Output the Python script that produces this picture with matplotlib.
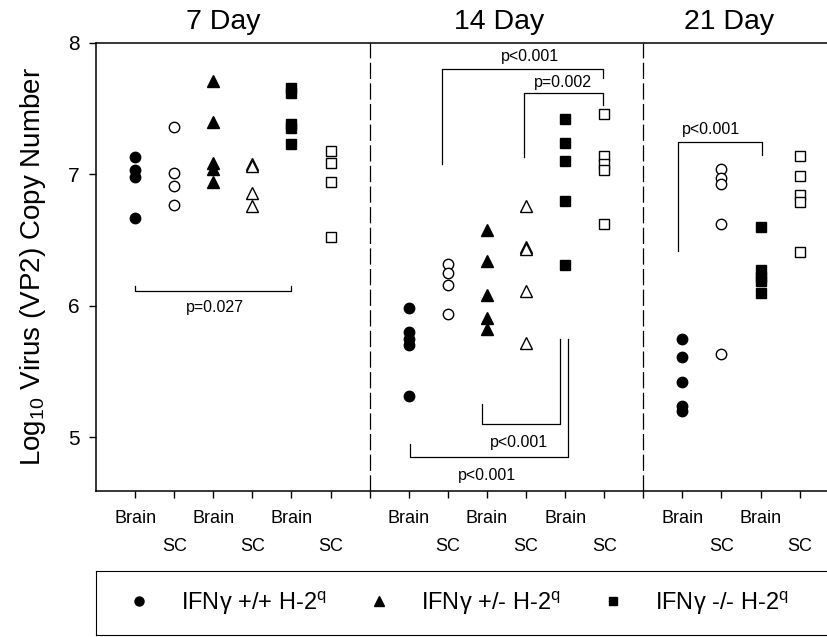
import matplotlib.pyplot as plt
from matplotlib.lines import Line2D

plt.rcParams['font.family'] = ['Liberation Sans', 'DejaVu Sans']
plt.rcParams['mathtext.default'] = 'regular'

# log10 VP2 copy number
d7_wt_brain = [7.13, 7.03, 6.98, 6.67]
d7_wt_sc = [7.36, 7.01, 6.91, 6.77]
d7_het_brain = [7.71, 7.40, 7.09, 7.04, 6.94]
d7_het_sc = [7.08, 7.06, 6.86, 6.76]
d7_ko_brain = [7.66, 7.62, 7.38, 7.35, 7.23]
d7_ko_sc = [7.18, 7.09, 6.94, 6.52]

d14_wt_brain = [5.98, 5.80, 5.75, 5.70, 5.31]
d14_wt_sc = [6.32, 6.25, 6.16, 5.94]
d14_het_brain = [6.58, 6.34, 6.08, 5.91, 5.82]
d14_het_sc = [6.76, 6.45, 6.43, 6.11, 5.72]
d14_ko_brain = [7.42, 7.24, 7.10, 6.80, 6.31]
d14_ko_sc = [7.46, 7.14, 7.08, 7.03, 6.62]

d21_wt_brain = [5.75, 5.61, 5.42, 5.24, 5.20]
d21_wt_sc = [7.04, 6.97, 6.93, 6.62, 5.63]
d21_ko_brain = [6.60, 6.27, 6.22, 6.19, 6.10]
d21_ko_sc = [7.14, 6.99, 6.84, 6.79, 6.41]

days = ['7 Day', '14 Day', '21 Day']
day_centers = [3.25, 10.3, 16.2]
dividers = [7, 14]

# (genotype marker, filled?, values) in x order for each day
groups = [
    ('o', True, d7_wt_brain), ('o', False, d7_wt_sc),
    ('^', True, d7_het_brain), ('^', False, d7_het_sc),
    ('s', True, d7_ko_brain), ('s', False, d7_ko_sc),
    None,
    ('o', True, d14_wt_brain), ('o', False, d14_wt_sc),
    ('^', True, d14_het_brain), ('^', False, d14_het_sc),
    ('s', True, d14_ko_brain), ('s', False, d14_ko_sc),
    None,
    ('o', True, d21_wt_brain), ('o', False, d21_wt_sc),
    ('s', True, d21_ko_brain), ('s', False, d21_ko_sc),
]

# significance brackets: x0, x1, y at left end, y of bar, y at right end, label, label x, label y
brackets = [
    (1, 5, 6.15, 6.11, 6.15, 'p=0.027', 3.04, 5.99),
    (8.85, 12.97, 7.08, 7.80, 7.73, 'p<0.001', 11.1, 7.90),
    (10.95, 12.97, 7.13, 7.62, 7.53, 'p=0.002', 11.95, 7.70),
    (9.87, 11.88, 5.25, 5.10, 5.75, 'p<0.001', 10.82, 4.96),
    (8.03, 12.08, 4.95, 4.845, 5.75, 'p<0.001', 9.99, 4.71),
    (14.89, 17.03, 6.42, 7.25, 7.15, 'p<0.001', 15.74, 7.34),
]

legend_labels = ['IFN$\\gamma$ +/+ H-2$^{q}$', 'IFN$\\gamma$ +/- H-2$^{q}$', 'IFN$\\gamma$ -/- H-2$^{q}$']

fig = plt.figure(figsize=(8.27, 6.37), dpi=100)
ax = fig.add_axes([96 / 827, 1 - 491 / 637, 731 / 827, 448 / 637])

sizes = {'o': 7.5, '^': 8, 's': 6.5}
brain_pos, sc_pos = [], []
for i, g in enumerate(groups):
    if g is None:
        continue
    x = i + 1
    m, filled, vals = g
    ax.plot([x] * len(vals), vals, linestyle='none', marker=m, ms=sizes[m],
            mfc='k' if filled else 'white', mec='k', mew=1.0)
    (brain_pos if filled else sc_pos).append(x)

for x0, x1, y0, yb, y1, lab, lx, ly in brackets:
    ax.plot([x0, x0, x1, x1], [y0, yb, yb, y1], color='k', lw=0.9)
    ax.text(lx, ly, lab, ha='center', va='center', fontsize=11.5)

for d in dividers:
    ax.axvline(d, color='k', lw=0.9, ls=(0, (13, 3.5)))

for name, cx in zip(days, day_centers):
    ax.text(cx, 1.047, name, transform=ax.get_xaxis_transform(),
            ha='center', va='center', fontsize=20.5)

ax.set_xlim(0, 18.7)
ax.set_ylim(4.59, 8.0)
ax.set_yticks([5, 6, 7, 8])
ax.set_xticks(brain_pos, ['Brain'] * len(brain_pos))
ax.set_xticks(sc_pos + dividers, ['SC'] * len(sc_pos) + [''] * len(dividers), minor=True)
ax.tick_params(axis='y', direction='out', length=5, width=1, labelsize=15, pad=7)
ax.tick_params(axis='x', which='both', direction='out', length=5, width=1, labelsize=13)
ax.tick_params(axis='x', which='major', pad=9)
ax.tick_params(axis='x', which='minor', pad=29)
ax.spines['right'].set_visible(False)
for s in ['left', 'bottom', 'top']:
    ax.spines[s].set_linewidth(1.1)
ax.set_ylabel('Log$_{10}$ Virus (VP2) Copy Number', fontsize=20, labelpad=14)

# legend box below the plot
lax = fig.add_axes([96 / 827, 2 / 637, 731 / 827, 64 / 637])
lax.set_xticks([])
lax.set_yticks([])
lax.spines['right'].set_visible(False)
handles = [Line2D([], [], linestyle='none', marker=m, ms=s, mfc='k', mec='k')
           for m, s in [('o', 6.5), ('^', 6.5), ('s', 5.5)]]
lax.legend(handles, legend_labels, ncol=3, loc='center left', bbox_to_anchor=(0.042, 0.5),
           frameon=False, fontsize=17, handlelength=1.0, handletextpad=1.3,
           columnspacing=1.7, borderpad=0, borderaxespad=0)

fig.savefig('out.png', dpi=100)
